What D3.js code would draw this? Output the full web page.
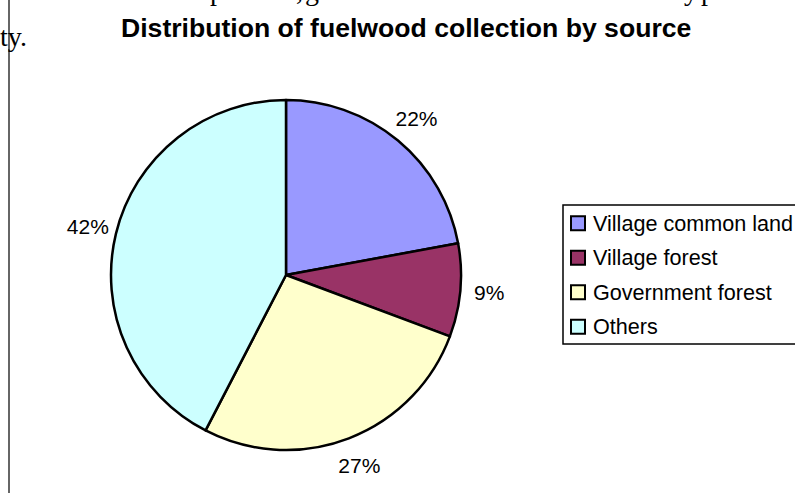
<!DOCTYPE html>
<html>
<head>
<meta charset="utf-8">
<script src="https://cdn.jsdelivr.net/npm/d3@7"></script>
<style>
  body { margin: 0; background: #fff; }
  svg { display: block; }
  .sans { font-family: "Liberation Sans", Arial, sans-serif; }
  .serif { font-family: "Liberation Serif", "Times New Roman", serif; }
</style>
</head>
<body>
<svg id="chart" width="795" height="493"></svg>
<script>
// chart data
const categories = ["Village common land", "Village forest", "Government forest", "Others"];
const shares = [22.1, 8.6, 26.9, 42.4];
const colours = ["#9999FF", "#993366", "#FFFFCC", "#CCFFFF"];

let svg = d3.select("#chart");

// bits of the surrounding document text that show through
svg.append("line")
    .attr("x1", 9).attr("x2", 9)
    .attr("y1", 0).attr("y2", 493)
    .attr("stroke", "#333").attr("stroke-width", 1.5);

let docText = svg.append("text")
    .attr("class", "serif")
    .attr("font-size", 28)
    .attr("y", 0);
[["p", 210], [",", 296], ["g", 305], ["y", 684], ["p", 701]].forEach(function(c) {
    docText.append("tspan").attr("x", c[1]).text(c[0]);
});

svg.append("text")
    .attr("class", "serif")
    .attr("x", 0).attr("y", 46)
    .attr("font-size", 28)
    .text("ty.");

// title
svg.append("text")
    .attr("class", "sans")
    .attr("x", 121).attr("y", 37)
    .attr("font-size", 26.6)
    .attr("font-weight", "bold")
    .text("Distribution of fuelwood collection by source");

// pie
const cx = 286, cy = 275, radius = 175;

let pie = d3.pie().sort(null).value(function(d) { return d; });
let arcs = pie(shares);

let arc = d3.arc().innerRadius(0).outerRadius(radius);
let labelArc = d3.arc().innerRadius(radius + 29).outerRadius(radius + 29);

let g = svg.append("g").attr("transform", "translate(" + cx + "," + cy + ")");

g.selectAll("path")
    .data(arcs)
    .enter()
    .append("path")
    .attr("d", arc)
    .attr("fill", function(d, i) { return colours[i]; })
    .attr("stroke", "#000")
    .attr("stroke-width", 2.5)
    .attr("stroke-linejoin", "round");

g.selectAll(".pct")
    .data(arcs)
    .enter()
    .append("text")
    .attr("class", "sans pct")
    .attr("font-size", 21)
    .attr("text-anchor", "middle")
    .attr("dominant-baseline", "central")
    .attr("transform", function(d) { return "translate(" + labelArc.centroid(d) + ")"; })
    .text(function(d) { return Math.round(d.value) + "%"; });

// legend
let legend = svg.append("g").attr("transform", "translate(563,205)");

legend.append("rect")
    .attr("x", 0).attr("y", 0)
    .attr("width", 260).attr("height", 139)
    .attr("fill", "#fff")
    .attr("stroke", "#000")
    .attr("stroke-width", 1.5);

let rowY = d3.scaleBand().domain(categories).range([1, 139]);

let item = legend.selectAll(".item")
    .data(categories)
    .enter()
    .append("g")
    .attr("class", "item")
    .attr("transform", function(d) { return "translate(0," + (rowY(d) + rowY.bandwidth() / 2) + ")"; });

item.append("rect")
    .attr("x", 8).attr("y", -7)
    .attr("width", 14).attr("height", 14)
    .attr("fill", function(d, i) { return colours[i]; })
    .attr("stroke", "#000")
    .attr("stroke-width", 2);

item.append("text")
    .attr("class", "sans")
    .attr("x", 30)
    .attr("font-size", 21.6)
    .attr("dominant-baseline", "central")
    .text(function(d) { return d; });
</script>
</body>
</html>
